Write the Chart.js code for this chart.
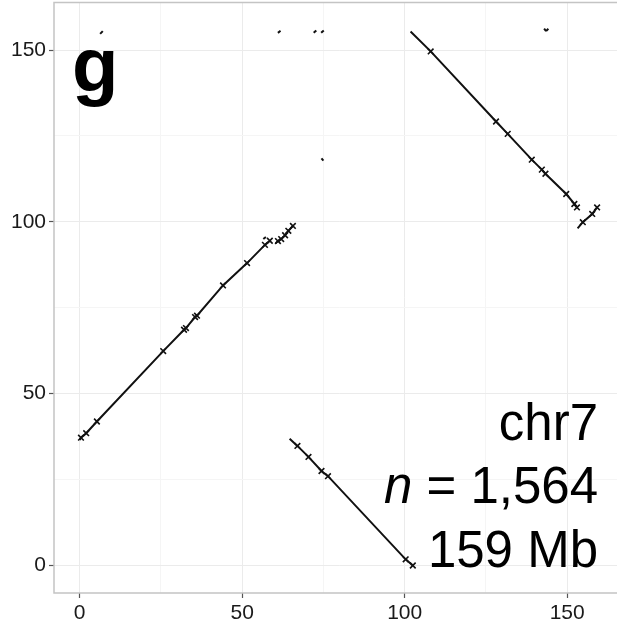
<!DOCTYPE html>
<html>
<head>
<meta charset="utf-8">
<script src="https://cdn.jsdelivr.net/npm/chart.js@4"></script>
<style>
    html, body { margin: 0; padding: 0; background: #fff; overflow: hidden; }
    /* canvas is a bit larger than the window so the plot panel runs off the right edge */
    #wrap { position: relative; top: -3px; width: 630px; height: 628px; }
</style>
</head>
<body>
<div id="wrap"><canvas id="chart"></canvas></div>
<script>
/* Tick values and labels */
const tickValues = [0, 25, 50, 75, 100, 125, 150];
const tickLabels = ["0", "", "50", "", "100", "", "150"];

/* Main forward alignment (0 -> 58 Mb) */
const diagX = [0, 0.4, 2, 5.3, 25.7, 32.1, 32.7, 35.5, 36.1, 44.1, 51.5, 57, 58.5];
const diagY = [36.5, 37.2, 38.5, 41.9, 62.4, 68.6, 69.1, 72.3, 72.7, 81.5, 88, 93.3, 94.5];

/* Small cluster right after it */
const clusterX = [60.3, 61, 62, 63.2, 64.2, 65.6];
const clusterY = [93.8, 94.4, 95, 96.1, 97.4, 98.8];

/* Lower inverted block */
const lowInvX = [64.6, 67, 70.4, 74.4, 76.4, 100.3, 102.5];
const lowInvY = [36.9, 34.8, 31.6, 27.5, 26, 1.8, 0];

/* Upper inverted block */
const upInvX = [101.8, 108, 128.1, 131.7, 139.1, 142.2, 143.3, 149.7, 152.2, 153];
const upInvY = [155.4, 149.6, 129.2, 125.6, 118.1, 115.2, 114, 108.1, 105.2, 104.2];

/* Short forward block at the end */
const tailX = [153.2, 154.8, 157.7, 159.2];
const tailY = [98.1, 99.9, 102.3, 104.2];

/* Tiny scattered hits */
const bitsStartX = [6.3, 61, 72, 74.3, 56.5, 74.4, 142.9, 143.5];
const bitsStartY = [154.7, 155, 155, 155, 95, 118.5, 156.2, 155.5];
const bitsEndX = [7.1, 61.8, 72.8, 75.1, 57.3, 75, 143.5, 144.2];
const bitsEndY = [155.5, 155.6, 155.7, 155.7, 95.6, 117.8, 155.5, 156.2];

/* Labels */
const panelLetter = "g";
const chromName = "chr7";
const hitCount = "1,564";
const chromSize = "159 Mb";

function toPoints(xs, ys) {
    return xs.map((x, i) => ({ x: x, y: ys[i] }));
}

function segment(xs, ys, marked) {
    return {
        data: toPoints(xs, ys),
        showLine: true,
        borderColor: "#111",
        borderWidth: 2,
        pointStyle: "cross",
        pointRotation: 45,
        pointBorderColor: "#111",
        pointBorderWidth: 1.6,
        pointRadius: (ctx) => {
            if (!marked) return 0;
            return ctx.dataIndex === 0 ? 0 : 4;
        }
    };
}

const datasets = [
    segment(diagX, diagY, true),
    segment(clusterX, clusterY, true),
    segment(lowInvX, lowInvY, true),
    segment(upInvX, upInvY, true),
    segment(tailX, tailY, true)
];

for (let i = 0; i < bitsStartX.length; i++) {
    datasets.push(segment([bitsStartX[i], bitsEndX[i]], [bitsStartY[i], bitsEndY[i]], false));
}

const FONT = "'Liberation Sans', Arial, sans-serif";

/* Panel border (left, top, bottom) and text annotations */
const decorations = {
    id: "decorations",
    beforeDatasetsDraw(chart) {
        const { ctx, chartArea } = chart;
        ctx.save();
        ctx.strokeStyle = "#c4c4c4";
        ctx.lineWidth = 1.5;
        ctx.beginPath();
        ctx.moveTo(chartArea.right + 2, chartArea.top);
        ctx.lineTo(chartArea.left, chartArea.top);
        ctx.lineTo(chartArea.left, chartArea.bottom);
        ctx.lineTo(chartArea.right + 2, chartArea.bottom);
        ctx.stroke();
        ctx.restore();
    },
    afterDraw(chart) {
        const ctx = chart.ctx;
        const top = chart.chartArea.top;
        ctx.save();
        ctx.fillStyle = "#000";
        ctx.textBaseline = "alphabetic";

        ctx.font = "bold 76px " + FONT;
        ctx.textAlign = "left";
        ctx.fillText(panelLetter, 72, top + 88);

        const right = 598;
        ctx.font = "51px " + FONT;
        ctx.textAlign = "right";
        ctx.fillText(chromName, right, top + 437);

        const rest = " = " + hitCount;
        ctx.fillText(rest, right, top + 500);
        const restWidth = ctx.measureText(rest).width;
        ctx.font = "italic 51px " + FONT;
        ctx.fillText("n", right - restWidth, top + 500);

        ctx.font = "51px " + FONT;
        ctx.fillText(chromSize, right, top + 564);
        ctx.restore();
    }
};

function axis(min, max, size, isX) {
    return {
        type: "linear",
        min: min,
        max: max,
        afterBuildTicks: (scale) => {
            scale.ticks = tickValues.map(v => ({ value: v }));
        },
        afterFit: (scale) => {
            if (isX) scale.height = size; else scale.width = size;
            scale.paddingTop = 0;
            scale.paddingBottom = 0;
            scale.paddingLeft = 0;
            scale.paddingRight = 0;
        },
        border: { display: false },
        grid: {
            color: (ctx) => (ctx.tick && ctx.tick.value % 50 === 0) ? "#ebebeb" : "#f5f5f5",
            lineWidth: 1,
            tickLength: 5,
            tickColor: (ctx) => (ctx.tick && ctx.tick.value % 50 === 0) ? "#555" : "rgba(0,0,0,0)",
            tickWidth: 1.2
        },
        ticks: {
            autoSkip: false,
            maxRotation: 0,
            padding: 3,
            color: "#1a1a1a",
            font: { family: FONT, size: 21 },
            callback: (value) => {
                const i = tickValues.indexOf(value);
                return i >= 0 ? tickLabels[i] : "";
            }
        }
    };
}

new Chart(document.getElementById("chart"), {
    type: "scatter",
    data: { datasets },
    options: {
        responsive: true,
        maintainAspectRatio: false,
        animation: false,
        layout: { padding: 0 },
        plugins: {
            legend: { display: false },
            tooltip: { enabled: false }
        },
        scales: {
            x: axis(-7.9, 167.6, 32, true),
            y: axis(-8, 163.8, 54, false)
        }
    },
    plugins: [decorations]
});
</script>
</body>
</html>
